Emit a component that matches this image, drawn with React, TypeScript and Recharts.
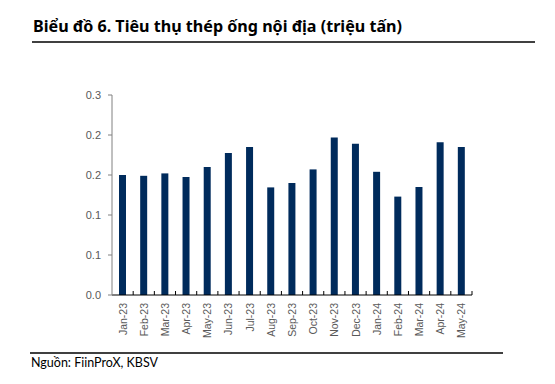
import React from "react";
import { BarChart, Bar, XAxis, YAxis } from "recharts";

const months = [
  "Jan-23", "Feb-23", "Mar-23", "Apr-23", "May-23", "Jun-23", "Jul-23", "Aug-23", "Sep-23",
  "Oct-23", "Nov-23", "Dec-23", "Jan-24", "Feb-24", "Mar-24", "Apr-24", "May-24",
];
const consumption = [
  0.150, 0.149, 0.152, 0.1475, 0.160, 0.1775, 0.185, 0.1345, 0.140,
  0.157, 0.197, 0.189, 0.154, 0.123, 0.135, 0.191, 0.185,
];
const yTicks = [0, 0.05, 0.1, 0.15, 0.2, 0.25];
const yTickLabels = ["0.0", "0.1", "0.1", "0.2", "0.2", "0.3"];

const data = months.map((m, i) => ({ month: m, value: consumption[i] }));

const TITLE_FONT = "'Noto Sans', 'Open Sans', sans-serif";
const FONT = "Lato, 'Liberation Sans', sans-serif";
const LABEL_FONT = "'Liberation Sans', Arial, sans-serif";

function MonthTick(props: any) {
  const { x, y, payload } = props;
  const off = payload.offset ?? 0;
  return (
    <g>
      <line x1={x + off} x2={x + off} y1={y} y2={y - 4} stroke="#000" strokeWidth={1} />
      <text
        x={x}
        y={y + 8}
        transform={`rotate(-90, ${x}, ${y + 8})`}
        textAnchor="end"
        dominantBaseline="central"
        fontSize={10.5}
        fontFamily={LABEL_FONT}
        fill="#595959"
      >
        {payload.value}
      </text>
    </g>
  );
}

export default function App() {
  return (
    <div style={{ position: "absolute", left: 0, top: 0, width: 555, height: 384, background: "#fff" }}>
      <svg width={555} height={384} style={{ position: "absolute", left: 0, top: 0 }}>
        <text
          x={33}
          y={32}
          fontSize={16}
          fontWeight="bold"
          fontFamily={TITLE_FONT}
          fill="#000"
          textLength={369}
          lengthAdjust="spacingAndGlyphs"
        >
          Biểu đồ 6. Tiêu thụ thép ống nội địa (triệu tấn)
        </text>
        <line x1={32} x2={535} y1={42} y2={42} stroke="#000" strokeWidth={1.5} />
        <line x1={30} x2={503} y1={353} y2={353} stroke="#000" strokeWidth={1.5} />
        <text x={31} y={367} fontSize={13.5} fontFamily={FONT} fill="#000" textLength={127} lengthAdjust="spacingAndGlyphs">
          Nguồn: FiinProX, KBSV
        </text>
      </svg>
      <div style={{ position: "absolute", left: 0, top: 0 }}>
        <BarChart
          width={555}
          height={384}
          data={data}
          margin={{ top: 95, right: 83, bottom: 39, left: 72 }}
        >
          <XAxis
            dataKey="month"
            interval={0}
            height={50}
            tickLine={false}
            tickSize={0}
            tickMargin={0}
            axisLine={{ stroke: "#000", strokeWidth: 1 }}
            tick={<MonthTick />}
          />
          <YAxis
            width={40}
            domain={[0, 0.25]}
            ticks={yTicks}
            interval={0}
            tickSize={4}
            tickMargin={7}
            tickFormatter={(v: number) => yTickLabels[yTicks.indexOf(v)] ?? ""}
            axisLine={{ stroke: "#808080" }}
            tickLine={{ stroke: "#808080" }}
            tick={{ fontSize: 11, fontFamily: LABEL_FONT, fill: "#595959" }}
          />
          <Bar dataKey="value" fill="#002B5C" barSize={7} isAnimationActive={false} />
        </BarChart>
      </div>
    </div>
  );
}
